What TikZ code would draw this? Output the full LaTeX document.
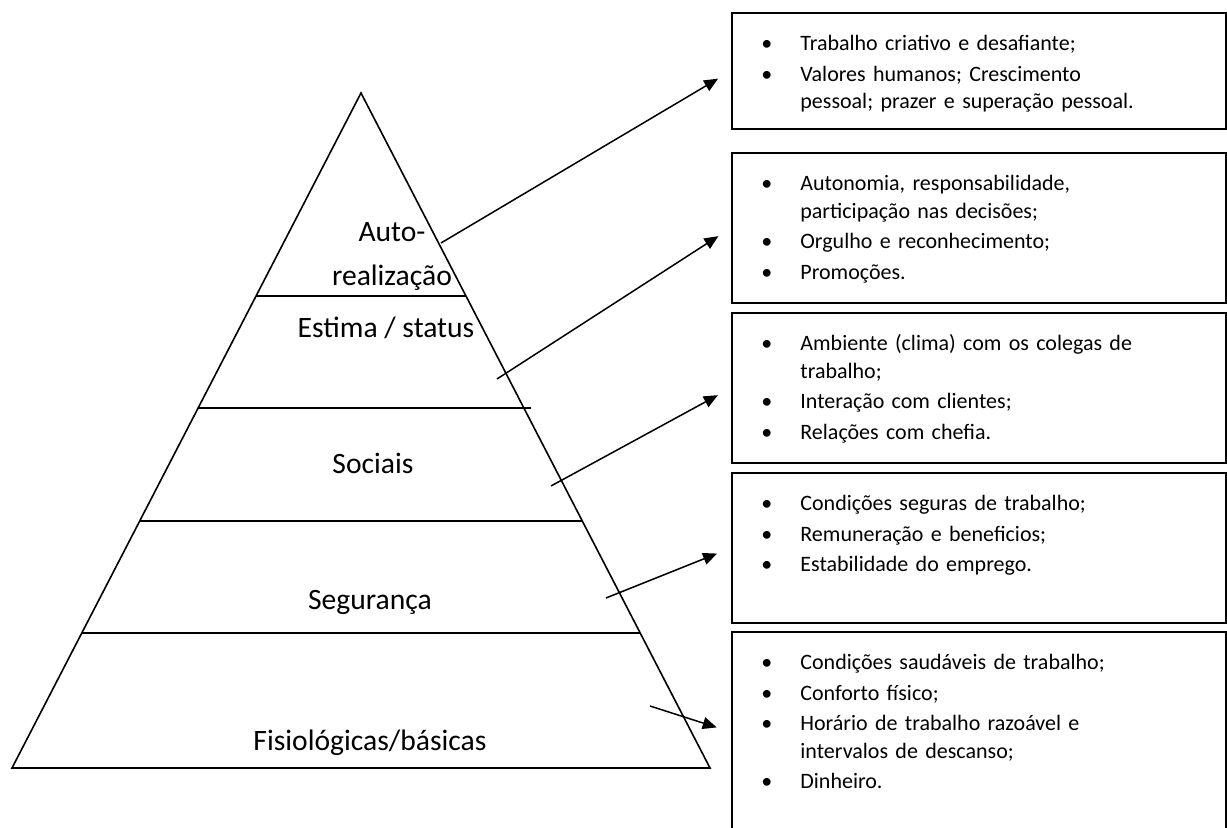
\documentclass[tikz,border=0pt]{standalone}
\usepackage{fontspec}
\setmainfont{Carlito}
\usetikzlibrary{arrows.meta,positioning,calc}
\newcommand{\bitem}[1]{\par\noindent\hangindent=19.5pt\hangafter=1\makebox[19.5pt][l]{\textbullet}#1\par}

\begin{document}
\begin{tikzpicture}[x=0.5pt,y=-0.5pt,>={Triangle[length=7pt,width=6pt]},
    edge/.style={line width=0.8pt},
    level/.style={line width=1.1pt},
    label/.style={font=\fontsize{14.8}{22}\selectfont,align=center,inner sep=0pt},
    infobox/.style={draw,line width=1pt,minimum width=247pt,anchor=north west,inner sep=0pt},
    infotext/.style={font=\fontsize{11}{13.75}\selectfont,text width=220pt,align=left,inner sep=0pt,anchor=north west,
      execute at begin node={\setlength{\parskip}{1.5pt}}},
    link/.style={->,line width=0.75pt,shorten >=7.5pt}]
    \useasboundingbox (0,0) rectangle (1227,828);
    \clip (0,0) rectangle (1227,828);

    % 金字塔轮廓
    \coordinate (top) at (361,93);
    \coordinate (bl) at (12,768);
    \coordinate (br) at (710,768);
    \draw[edge] (bl) -- (top) -- (br) -- cycle;

    % 分层横线
    \draw[level] ($(top)!0.3007!(bl)$) -- ($(top)!0.3007!(br)$);
    \draw[level] ($(top)!0.4667!(bl)$) -- ($(top)!0.4667!(br)+(7,0)$);
    \draw[level] ($(top)!0.634!(bl)$) -- ($(top)!0.634!(br)$);
    \draw[level] ($(top)!0.80!(bl)$) -- ($(top)!0.80!(br)$);

    % 各层名称
    \node[label] (auto) at (392,256) {Auto-\\realização};
    \node[label,text height=0.7em,text depth=0.2em] (estima) at (386,333) {Estima / status};
    \node[label,text height=0.7em,text depth=0.2em] (sociais) at (373,469) {Sociais};
    \node[label,text height=0.7em,text depth=0.2em] (seguranca) at (370,605) {Segurança};
    \node[label,text height=0.7em,text depth=0.2em] (fisio) at (370,745) {Fisiológicas/básicas};

    % 右侧说明框
    \node[infobox,minimum height=58pt] (b1) at (731,12) {};
    \node[infobox,minimum height=75pt] (b2) at (731,152) {};
    \node[infobox,minimum height=75pt] (b3) at (731,312) {};
    \node[infobox,minimum height=75pt] (b4) at (731,472) {};
    \node[infobox,minimum height=100pt] (b5) at (731,631) {};

    \node[infotext] (t1) at ([xshift=15pt,yshift=-4pt]b1.north west) {%
      \bitem{Trabalho criativo e desafiante;}
      \bitem{Valores humanos; Crescimento\newline pessoal; prazer e superação pessoal.}};
    \node[infotext] (t2) at ([xshift=15pt,yshift=-4pt]b2.north west) {%
      \bitem{Autonomia, responsabilidade,\newline participação nas decisões;}
      \bitem{Orgulho e reconhecimento;}
      \bitem{Promoções.}};
    \node[infotext] (t3) at ([xshift=15pt,yshift=-4pt]b3.north west) {%
      \bitem{Ambiente (clima) com os colegas de\newline trabalho;}
      \bitem{Interação com clientes;}
      \bitem{Relações com chefia.}};
    \node[infotext] (t4) at ([xshift=15pt,yshift=-4pt]b4.north west) {%
      \bitem{Condições seguras de trabalho;}
      \bitem{Remuneração e beneficios;}
      \bitem{Estabilidade do emprego.}};
    \node[infotext] (t5) at ([xshift=15pt,yshift=-4pt]b5.north west) {%
      \bitem{Condições saudáveis de trabalho;}
      \bitem{Conforto físico;}
      \bitem{Horário de trabalho razoável e\newline intervalos de descanso;}
      \bitem{Dinheiro.}};

    % 指向说明框的箭头
    \coordinate (s1) at (441,243);
    \coordinate (s2) at (497,379);
    \coordinate (s3) at (551,486);
    \coordinate (s4) at (606,598);
    \coordinate (s5) at (650,706);
    \draw[link] (s1) -- (b1.west);
    \draw[link] (s2) -- (b2.west);
    \draw[link] (s3) -- (b3.west);
    \draw[link] (s4) -- (b4.west);
    \draw[link] (s5) -- (b5.west);
\end{tikzpicture}
\end{document}
